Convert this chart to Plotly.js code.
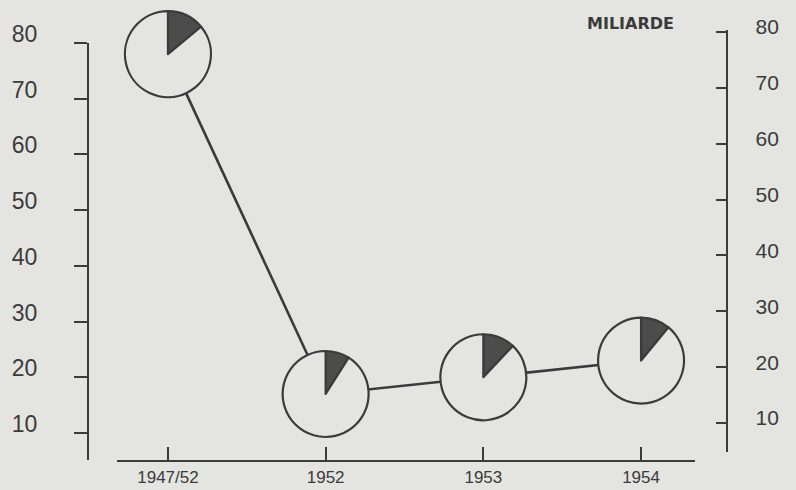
<!DOCTYPE html>
<html>
<head>
<meta charset="utf-8">
<script src="https://cdn.plot.ly/plotly-3.0.1.min.js"></script>
<style>html,body{margin:0;padding:0;background:#e4e4e1;}#chart{width:796px;height:490px;}</style>
</head>
<body>
<div id="chart"></div>
<script>
// ---- data ----
const categories = ['1947/52', '1952', '1953', '1954'];
const values = [78, 17, 20, 23];            // miliarde (left scale)
const darkShare = [14, 9, 12, 11];          // dark slice, % of each circle
const leftTicks = [10, 20, 30, 40, 50, 60, 70, 80];
const rightTicks = [10, 20, 30, 40, 50, 60, 70, 80];
const unitLabel = 'MILIARDE';

// ---- styling / layout ----
const W = 796, H = 490;
const M = {l: 88, r: 69, t: 8, b: 30};
const PW = W - M.l - M.r, PH = H - M.t - M.b;
const xDomain = [(117 - M.l) / PW, (695 - M.l) / PW];
const xRange = [-0.323, 3.342];
const yDomain = [0, (460 - 43) / PH];
const yRange = [5.15, 80];
const y2Domain = [(460 - 452) / PH, (460 - 30) / PH];
const y2Range = [4.81, 80.36];
const ink = '#3b3b3b';
const bg = '#e4e4e1';
const fam = 'Liberation Sans, Arial, sans-serif';
const pieR = 43;

const traces = [{
  type: 'scatter', mode: 'lines', x: categories, y: values,
  line: {color: ink, width: 2.6}, hoverinfo: 'skip', showlegend: false
}, {
  type: 'scatter', mode: 'lines', x: [categories[0]], y: [null],
  yaxis: 'y2', hoverinfo: 'skip', showlegend: false, line: {width: 0}
}];

// pies placed through the axis scales
categories.forEach((c, i) => {
  const xf = xDomain[0] + (i - xRange[0]) / (xRange[1] - xRange[0]) * (xDomain[1] - xDomain[0]);
  const yf = yDomain[0] + (values[i] - yRange[0]) / (yRange[1] - yRange[0]) * (yDomain[1] - yDomain[0]);
  const rx = pieR / PW, ry = pieR / PH;
  traces.push({
    type: 'pie', values: [darkShare[i], 100 - darkShare[i]],
    labels: ['a', 'b'], sort: false, direction: 'clockwise', rotation: 0,
    textinfo: 'none', hoverinfo: 'skip', showlegend: false,
    marker: {colors: ['#4c4c4c', bg], line: {color: ink, width: 2.2}},
    domain: {x: [xf - rx, xf + rx], y: [yf - ry, yf + ry]}
  });
});

const layout = {
  width: W, height: H, margin: M,
  paper_bgcolor: bg, plot_bgcolor: 'rgba(0,0,0,0)',
  font: {family: fam, color: ink}, showlegend: false,
  xaxis: {
    type: 'category', domain: xDomain, range: xRange, anchor: 'y',
    showline: true, linecolor: ink, linewidth: 2.4, showgrid: false, zeroline: false,
    ticks: 'inside', ticklen: 13, tickwidth: 2, tickcolor: ink,
    ticklabelstandoff: 0,
    tickfont: {family: fam, size: 17, color: ink},
    fixedrange: true
  },
  yaxis: {
    range: yRange, domain: yDomain, anchor: 'free', position: 0,
    showline: true, linecolor: ink, linewidth: 2.4, showgrid: false, zeroline: false,
    tickmode: 'array', tickvals: leftTicks, ticktext: leftTicks.map(String),
    ticks: 'outside', ticklen: 13, tickwidth: 2, tickcolor: ink,
    ticklabelstandoff: 32, ticklabelshift: -9,
    tickfont: {family: fam, size: 23, color: ink}, fixedrange: true
  },
  yaxis2: {
    range: y2Range, domain: y2Domain, side: 'right', anchor: 'free', position: 1,
    showline: true, linecolor: ink, linewidth: 2.4, showgrid: false, zeroline: false,
    tickmode: 'array', tickvals: rightTicks, ticktext: rightTicks.map(String),
    ticks: 'inside', ticklen: 10, tickwidth: 2, tickcolor: ink,
    ticklabelstandoff: 23, ticklabelshift: -5,
    tickfont: {family: fam, size: 21, color: ink}, fixedrange: true
  },
  annotations: [{
    text: unitLabel, xref: 'paper', yref: 'paper',
    x: (630 - M.l) / PW, y: (H - M.b - 23) / PH, xanchor: 'center', yanchor: 'middle',
    showarrow: false,
    font: {family: 'DejaVu Sans, sans-serif', size: 16, color: ink, weight: 'bold'}
  }]
};
Plotly.newPlot('chart', traces, layout, {displayModeBar: false, staticPlot: true});
</script>
</body>
</html>
